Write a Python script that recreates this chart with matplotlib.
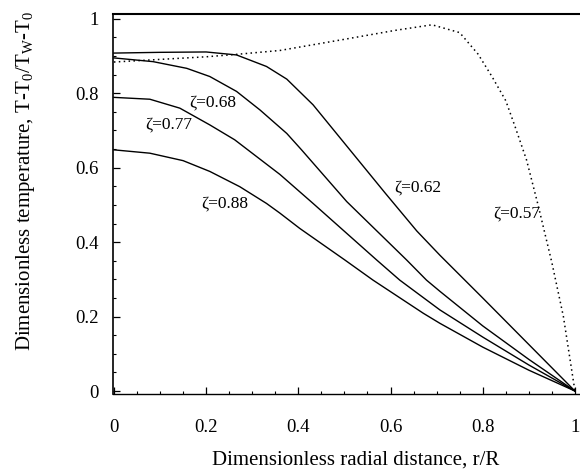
import matplotlib
matplotlib.use("Agg")
import matplotlib.pyplot as plt
from matplotlib.ticker import MultipleLocator

plt.rcParams['font.family'] = ['Liberation Serif', 'DejaVu Serif']
plt.rcParams['mathtext.fontset'] = 'custom'
plt.rcParams['mathtext.rm'] = 'Liberation Serif'
plt.rcParams['mathtext.it'] = 'Liberation Serif'

# zeta = 0.57 (dotted)
x_057 = [0, 0.1, 0.2, 0.27, 0.36, 0.5, 0.61, 0.69, 0.75, 0.79, 0.82, 0.85, 0.87, 0.895, 0.92, 0.95, 0.975, 1.0]
y_057 = [0.884, 0.891, 0.898, 0.905, 0.915, 0.945, 0.969, 0.984, 0.963, 0.905, 0.845, 0.78, 0.711, 0.621, 0.50, 0.345, 0.20, 0.0]

# zeta = 0.62
x_062 = [0, 0.1, 0.2, 0.266, 0.331, 0.375, 0.432, 0.494, 0.589, 0.657, 0.707, 0.8, 0.9, 1.0]
y_062 = [0.908, 0.910, 0.911, 0.903, 0.872, 0.838, 0.769, 0.675, 0.531, 0.43, 0.365, 0.25, 0.125, 0.0]

# zeta = 0.68
x_068 = [0, 0.085, 0.158, 0.208, 0.266, 0.317, 0.375, 0.407, 0.505, 0.635, 0.678, 0.707, 0.8, 0.9, 1.0]
y_068 = [0.895, 0.885, 0.867, 0.845, 0.805, 0.755, 0.692, 0.648, 0.509, 0.352, 0.298, 0.268, 0.175, 0.085, 0.0]

# zeta = 0.77
x_077 = [0, 0.078, 0.143, 0.208, 0.262, 0.36, 0.432, 0.57, 0.62, 0.707, 0.8, 0.9, 1.0]
y_077 = [0.789, 0.784, 0.76, 0.715, 0.675, 0.582, 0.504, 0.352, 0.298, 0.218, 0.145, 0.07, 0.0]

# zeta = 0.88
x_088 = [0, 0.078, 0.15, 0.208, 0.273, 0.331, 0.36, 0.403, 0.501, 0.562, 0.671, 0.707, 0.8, 0.9, 1.0]
y_088 = [0.648, 0.639, 0.619, 0.59, 0.549, 0.504, 0.478, 0.437, 0.352, 0.298, 0.209, 0.182, 0.118, 0.056, 0.0]

labels = ["ζ=0.57", "ζ=0.62", "ζ=0.68", "ζ=0.77", "ζ=0.88"]
label_pos = [(0.874, 0.478), (0.66, 0.546), (0.215, 0.774), (0.118, 0.715), (0.24, 0.505)]

x_ticks = [0, 0.2, 0.4, 0.6, 0.8, 1]
x_ticklabels = ["0", "0.2", "0.4", "0.6", "0.8", "1"]
y_ticks = [0, 0.2, 0.4, 0.6, 0.8, 1]
y_ticklabels = ["0", "0.2", "0.4", "0.6", "0.8", "1"]

fig = plt.figure(figsize=(5.8, 4.71), dpi=100)
ax = fig.add_axes([113/580, 77/471, 467/580, 380/471])

ax.plot(x_057, y_057, color='black', lw=1.1, linestyle=(0, (1, 2.2)))
for xs, ys in [(x_062, y_062), (x_068, y_068), (x_077, y_077), (x_088, y_088)]:
    ax.plot(xs, ys, color='black', lw=1.0)

for t, (lx, ly) in zip(labels, label_pos):
    ax.text(lx, ly, t, fontsize=12.5, ha='center', va='center')

ax.set_xlim(-0.002, 1.011)
ax.set_ylim(-0.008, 1.013)
ax.set_xticks(x_ticks)
ax.set_xticklabels(x_ticklabels)
ax.set_yticks(y_ticks)
ax.set_yticklabels(y_ticklabels)
ax.xaxis.set_minor_locator(MultipleLocator(0.05))
ax.yaxis.set_minor_locator(MultipleLocator(0.05))
ax.tick_params(which='major', direction='in', length=5, width=0.9, labelsize=13.5)
ax.tick_params(which='minor', direction='in', length=2.5, width=0.8)
ax.tick_params(axis='x', which='major', pad=18)
ax.tick_params(axis='y', which='major', pad=10)

ax.spines['right'].set_visible(False)
ax.spines['top'].set_linewidth(1.5)
ax.spines['left'].set_linewidth(1.2)
ax.spines['bottom'].set_linewidth(1.0)

ax.set_xlabel("Dimensionless radial distance, r/R", fontsize=15)
ax.xaxis.set_label_coords(0.52, -0.15)
ax.set_ylabel(r"Dimensionless temperature, T-T$_0$/T$_\mathrm{W}$-T$_0$", fontsize=15)
ax.yaxis.set_label_coords(-0.163, 0.56)

fig.savefig("out.png", dpi=100)
